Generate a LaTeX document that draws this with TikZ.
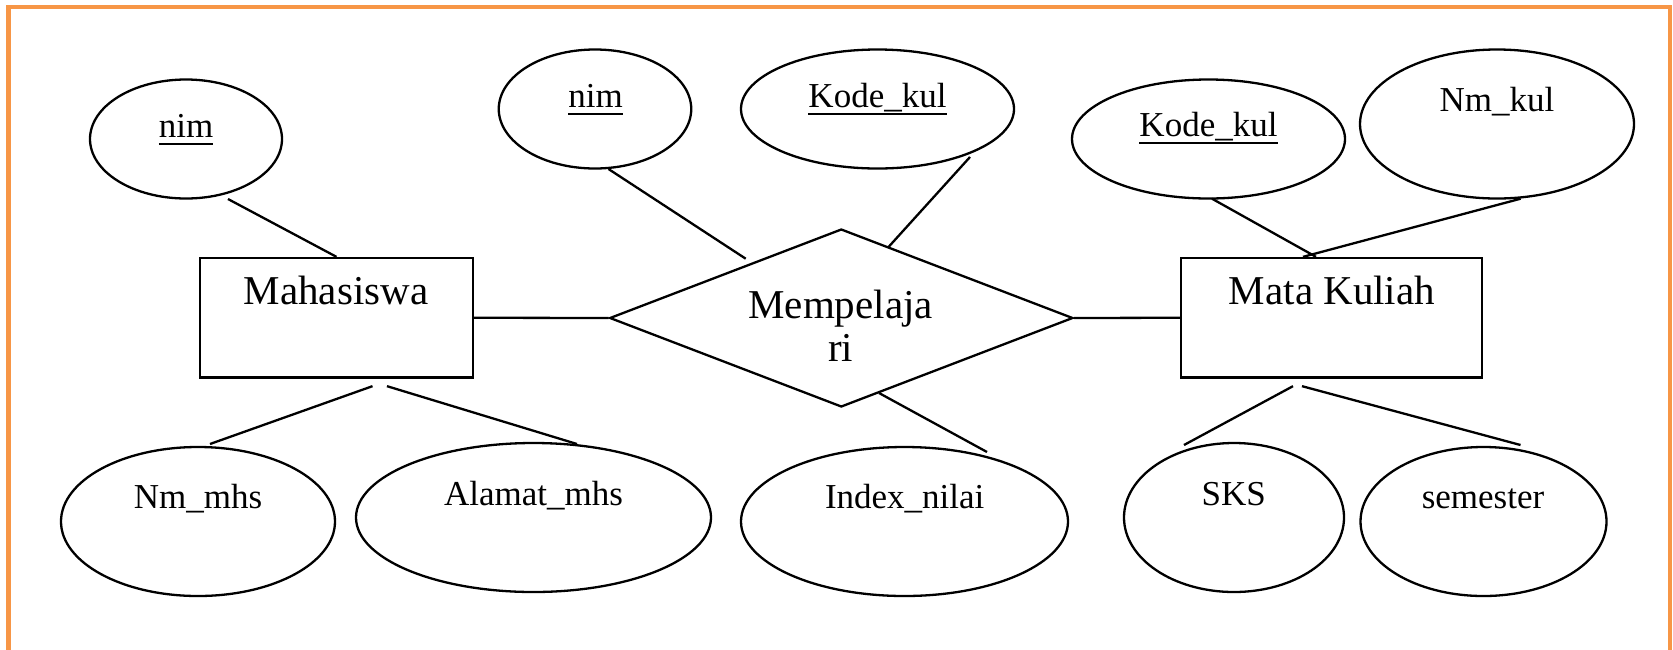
\documentclass[tikz,border=0pt]{standalone}
\usepackage{fontspec}
\setmainfont{Liberation Serif}
\usetikzlibrary{shapes.geometric,calc}

\definecolor{frameorange}{RGB}{247,150,70}

% key attribute: text with a firm underline
\newcommand{\keyattr}[1]{\setbox0\hbox{#1}\rlap{\rule[-8pt]{\wd0}{1.7pt}}\box0}

\begin{document}
\begin{tikzpicture}[x=1pt,y=-1pt,
  ln/.style={line width=2.3pt, black},
  entity/.style n args={2}{rectangle, draw, line width=2.3pt, inner sep=0pt,
    minimum width=#1, minimum height=#2},
  attr/.style n args={2}{ellipse, draw, line width=2.3pt, inner sep=0pt,
    minimum width=#1, minimum height=#2},
  rel/.style n args={2}{diamond, draw, line width=2.3pt, inner sep=0pt,
    minimum width=#1, minimum height=#2},
  bigtxt/.style={inner sep=0pt, anchor=base, font=\fontsize{41}{49}\selectfont},
  smalltxt/.style={inner sep=0pt, anchor=base, font=\fontsize{35}{42}\selectfont}
]
\fill[white] (0,0) rectangle (1673,649);
\useasboundingbox (0,0) rectangle (1673,649);

% frame
\draw[frameorange, line width=4.3pt] (8.5,700) -- (8.5,7) -- (1670,7) -- (1670,700);

% entities and relationship
\node[entity={273pt}{119.5pt}] (mhs) at (336.5,317.75) {};
\node[entity={301pt}{119.5pt}] (mk) at (1331.5,317.75) {};
\node[rel={463.3pt}{178pt}] (ajar) at (841.3,318) {};

% attributes
\node[attr={192pt}{119pt}] (nimL) at (186,139) {};
\node[attr={192.5pt}{119pt}] (nimM) at (595,109) {};
\node[attr={273pt}{119pt}] (kodeM) at (877.5,109) {};
\node[attr={273pt}{119pt}] (kodeR) at (1208.5,139) {};
\node[attr={274pt}{149pt}] (nmkul) at (1497,124) {};
\node[attr={274pt}{149pt}] (nmmhs) at (198,521.5) {};
\node[attr={355pt}{149pt}] (alamat) at (533.5,517.5) {};
\node[attr={327pt}{149pt}] (index) at (904.5,521.5) {};
\node[attr={220pt}{149pt}] (sks) at (1234,517.5) {};
\node[attr={246pt}{149pt}] (smt) at (1483.5,521.5) {};

% labels
\node[bigtxt] (t-mhs) at (336,304) {Mahasiswa};
\node[bigtxt] (t-mk) at (1332,304) {Mata Kuliah};
\node[bigtxt] (t-ajar1) at (840.6,318) {Mempelaja};
\node[bigtxt] (t-ajar2) at (840.6,361) {ri};
\node[smalltxt] (t-nimL) at (186,137) {\keyattr{nim}};
\node[smalltxt] (t-nimM) at (595.5,107) {\keyattr{nim}};
\node[smalltxt] (t-kodeM) at (877.5,107) {\keyattr{Kode\_kul}};
\node[smalltxt] (t-kodeR) at (1208.5,136) {\keyattr{Kode\_kul}};
\node[smalltxt] (t-nmkul) at (1497,111) {Nm\_kul};
\node[smalltxt] (t-nmmhs) at (198,508) {Nm\_mhs};
\node[smalltxt] (t-alamat) at (533.5,505) {Alamat\_mhs};
\node[smalltxt] (t-index) at (904.7,508) {Index\_nilai};
\node[smalltxt] (t-sks) at (1233.7,505) {SKS};
\node[smalltxt] (t-smt) at (1483,508) {semester};

% connectors
\draw[ln] ($(nimL.center)+(42,60)$) -- (mhs.north);
\draw[ln] (mhs.east) -- (ajar.west);
\draw[ln] ($(nimM.center)+(13.5,60)$) -- ($(ajar.center)+(-95.6,-59.3)$);
\draw[ln] ($(kodeM.center)+(92.5,48)$) -- ($(ajar.center)+(47.2,-71)$);
\draw[ln] ($(ajar.center)+(37.7,75)$) -- ($(index.center)+(82.5,-69.5)$);
\draw[ln] (ajar.east) -- (mk.west);
\draw[ln] ($(kodeR.center)+(3.5,59.7)$) -- ($(mk.north)+(-15.5,0)$);
\draw[ln] ($(nmkul.center)+(23.6,74.7)$) -- ($(mk.north)+(-28.5,0)$);
\draw[ln] ($(mhs.south)+(36,7.5)$) -- ($(nmmhs.center)+(12,-77.5)$);
\draw[ln] ($(mhs.south)+(50.5,7.5)$) -- ($(alamat.center)+(43.5,-73.5)$);
\draw[ln] ($(mk.south)+(-38.5,7.5)$) -- ($(sks.center)+(-50,-72.5)$);
\draw[ln] ($(mk.south)+(-29.5,7.5)$) -- ($(smt.center)+(37,-76.5)$);
\end{tikzpicture}
\end{document}
